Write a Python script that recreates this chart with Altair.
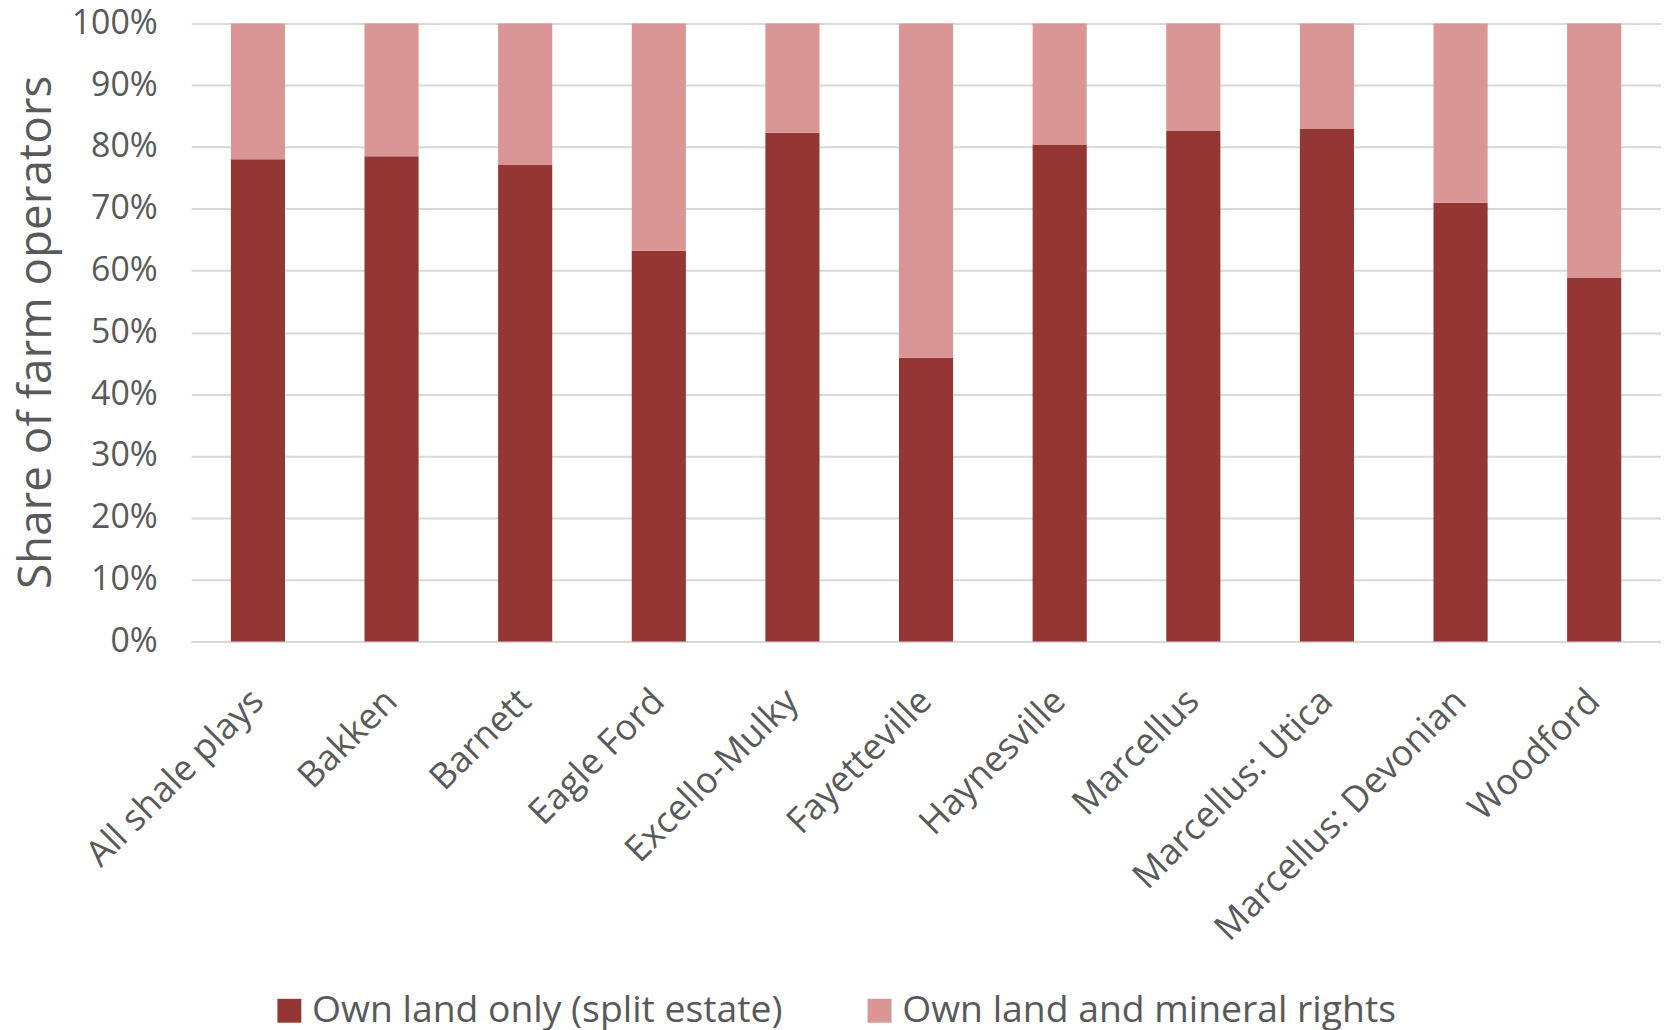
import altair as alt
import pandas as pd

categories = ["All shale plays", "Bakken", "Barnett", "Eagle Ford", "Excello-Mulky",
              "Fayetteville", "Haynesville", "Marcellus", "Marcellus: Utica",
              "Marcellus: Devonian", "Woodford"]
split_estate = [78.0, 78.5, 77.1, 63.2, 82.3, 45.9, 80.4, 82.6, 82.9, 71.0, 58.8]
mineral_rights = [22.0, 21.5, 22.9, 36.8, 17.7, 54.1, 19.6, 17.4, 17.1, 29.0, 41.2]
series_names = ["Own land only (split estate)", "Own land and mineral rights"]
series_colors = ["#943634", "#D99694"]

rows = []
for i, c in enumerate(categories):
    rows.append({"play": c, "series": series_names[0], "value": split_estate[i] / 100, "ord": 0})
    rows.append({"play": c, "series": series_names[1], "value": mineral_rights[i] / 100, "ord": 1})
df = pd.DataFrame(rows)

FONT = "Open Sans"
TXT = "#595959"

chart = alt.Chart(df).mark_bar().encode(
    x=alt.X("play:N", sort=categories, title=None,
            scale=alt.Scale(paddingInner=0.595, paddingOuter=0.2975),
            axis=alt.Axis(labelAngle=-45, labelAlign="right", labelBaseline="middle",
                          labelPadding=54, ticks=False,
                          labelFont=FONT, labelFontSize=36, labelColor=TXT,
                          domain=True, domainColor="#D9D9D9", domainWidth=2,
                          labelLimit=1000)),
    y=alt.Y("value:Q", stack="zero", title="Share of farm operators",
            scale=alt.Scale(domain=[0, 1], nice=False),
            axis=alt.Axis(format=".0%", values=[i / 10 for i in range(11)],
                          ticks=False, domain=False, labelPadding=34,
                          labelFont=FONT, labelFontSize=34, labelColor=TXT,
                          gridColor="#D9D9D9", gridWidth=2,
                          titleFont=FONT, titleFontSize=46, titleColor=TXT,
                          titleFontWeight="normal", titleAngle=-90,
                          titleX=-155, titleY=310, titleAlign="center",
                          titleBaseline="middle")),
    color=alt.Color("series:N", sort=series_names,
                    scale=alt.Scale(domain=series_names, range=series_colors),
                    legend=alt.Legend(title=None, orient="none", direction="horizontal",
                                      legendX=80, legendY=973, symbolType="square",
                                      symbolSize=576, symbolStrokeWidth=0,
                                      labelFont=FONT, labelFontSize=37.5, labelColor=TXT,
                                      labelOffset=4, columnPadding=78, labelLimit=1000)),
    order=alt.Order("ord:Q"),
).properties(
    width=1477, height=621,
    padding={"left": 184, "top": 13, "right": 0, "bottom": 390},
    autosize=alt.AutoSizeParams(type="none"),
).configure_view(stroke=None)

chart.save("out.html", embed_options={"renderer": "svg", "actions": False})
